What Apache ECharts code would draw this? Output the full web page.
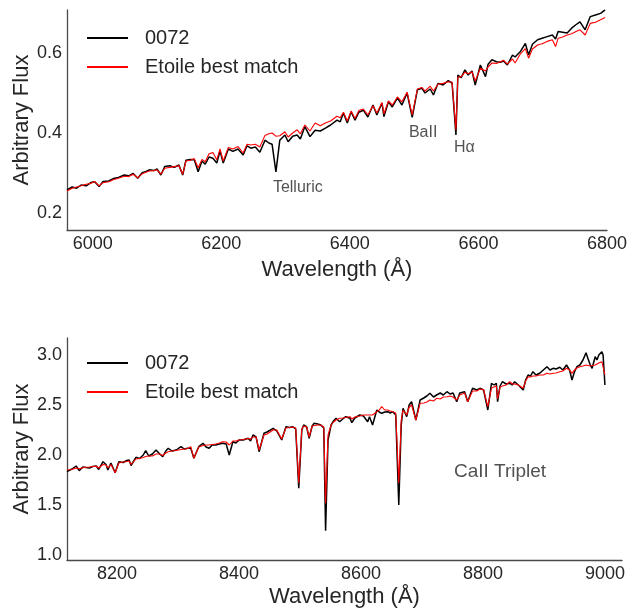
<!DOCTYPE html>
<html>
<head>
<meta charset="utf-8">
<script src="https://cdn.jsdelivr.net/npm/echarts@6/dist/echarts.min.js"></script>
<style>html,body{margin:0;padding:0;background:#fff;}#c{width:632px;height:610px;}</style>
</head>
<body>
<div id="c"></div>
<script>
// ---- Top panel (6000-6800 Å) ----
const topWl = [5960,5968,5975,5982,5990,5997,6003,6010,6016,6025,6032,6040,6049,6056,6063,6070,6077,6083,6088,6095,6100,6106,6112,6120,6127,6134,6140,6145,6152,6158,6164,6170,6175,6181,6187,6193,6198,6203,6211,6218,6226,6234,6240,6246,6253,6260,6268,6274,6279,6285,6291,6299,6304,6311,6318,6323,6330,6338,6346,6354,6362,6370,6380,6385,6390,6396,6402,6408,6414,6421,6428,6436,6442,6450,6453,6460,6466,6474,6481,6489,6497,6505,6512,6517,6525,6530,6537,6545,6553,6559,6565,6568,6573,6579,6584,6590,6595,6603,6611,6615,6621,6628,6634,6639,6645,6653,6657,6665,6673,6678,6684,6692,6699,6707,6715,6720,6724,6731,6738,6745,6751,6758,6766,6774,6782,6790,6797];
const topObs = [0.258,0.265,0.262,0.270,0.268,0.276,0.278,0.266,0.279,0.280,0.286,0.289,0.295,0.293,0.299,0.287,0.301,0.304,0.308,0.306,0.310,0.295,0.316,0.318,0.314,0.320,0.295,0.332,0.334,0.333,0.303,0.330,0.322,0.340,0.337,0.325,0.355,0.325,0.360,0.354,0.360,0.345,0.368,0.362,0.365,0.352,0.382,0.375,0.372,0.303,0.382,0.395,0.378,0.392,0.395,0.385,0.416,0.391,0.407,0.405,0.412,0.420,0.432,0.428,0.450,0.425,0.453,0.432,0.452,0.457,0.440,0.470,0.445,0.475,0.441,0.478,0.465,0.488,0.470,0.500,0.439,0.508,0.512,0.500,0.510,0.495,0.524,0.520,0.531,0.525,0.395,0.545,0.538,0.558,0.545,0.555,0.520,0.570,0.541,0.572,0.583,0.578,0.577,0.580,0.570,0.595,0.590,0.603,0.624,0.595,0.622,0.633,0.637,0.641,0.645,0.635,0.654,0.652,0.650,0.662,0.670,0.678,0.658,0.691,0.695,0.699,0.708];
const topModel = [0.255,0.262,0.265,0.268,0.272,0.274,0.279,0.268,0.276,0.278,0.283,0.287,0.292,0.291,0.297,0.288,0.298,0.302,0.305,0.306,0.308,0.297,0.312,0.314,0.316,0.318,0.297,0.330,0.332,0.336,0.313,0.334,0.328,0.348,0.351,0.333,0.360,0.330,0.364,0.360,0.366,0.350,0.372,0.370,0.372,0.365,0.394,0.398,0.400,0.392,0.393,0.403,0.390,0.400,0.408,0.398,0.420,0.405,0.425,0.418,0.425,0.430,0.442,0.438,0.452,0.430,0.455,0.436,0.456,0.460,0.445,0.468,0.450,0.476,0.448,0.480,0.470,0.490,0.478,0.502,0.445,0.510,0.514,0.505,0.517,0.505,0.522,0.524,0.528,0.527,0.408,0.540,0.540,0.552,0.548,0.553,0.530,0.562,0.555,0.565,0.575,0.574,0.578,0.582,0.572,0.585,0.575,0.597,0.611,0.587,0.610,0.620,0.623,0.629,0.633,0.616,0.637,0.640,0.645,0.648,0.653,0.658,0.645,0.674,0.677,0.683,0.689];
const topXTicks = [6000,6200,6400,6600,6800];
const topYTicks = [0.2,0.4,0.6];
const topNotes = [[6319,0.2625,'Telluric'],[6514,0.400,'BaII'],[6578,0.3625,'H\u03b1']];

// ---- Bottom panel (8100-9000 Å) ----
const botWl = [8118,8126,8133,8138,8144,8149,8155,8160,8166,8170,8177,8182,8185,8190,8193,8197,8203,8210,8216,8220,8223,8231,8237,8243,8247,8252,8258,8264,8270,8275,8280,8284,8290,8297,8305,8310,8316,8321,8326,8334,8341,8346,8351,8356,8362,8368,8373,8379,8384,8390,8395,8400,8407,8415,8419,8423,8428,8433,8441,8446,8449,8456,8462,8465,8470,8477,8483,8488,8493,8498,8503,8506,8511,8515,8520,8523,8529,8534,8539,8542,8546,8551,8555,8559,8565,8570,8575,8582,8585,8590,8598,8604,8611,8614,8619,8626,8630,8634,8639,8644,8648,8652,8657,8662,8666,8669,8675,8679,8683,8690,8697,8703,8708,8713,8719,8724,8730,8735,8741,8746,8751,8757,8762,8770,8775,8783,8790,8795,8801,8808,8814,8818,8822,8824,8828,8832,8838,8844,8848,8852,8858,8866,8870,8874,8878,8882,8887,8893,8899,8905,8910,8915,8920,8926,8931,8937,8942,8946,8950,8954,8959,8964,8969,8972,8976,8979,8984,8987,8990,8995,8997,9000];
const botObs = [1.833,1.860,1.890,1.843,1.880,1.875,1.870,1.885,1.890,1.855,1.933,1.905,1.850,1.920,1.915,1.823,1.933,1.925,1.945,1.950,1.895,1.977,1.965,2.000,2.043,1.990,2.010,2.050,2.010,1.983,2.040,2.067,2.040,2.050,2.083,2.060,2.067,2.067,1.967,2.083,2.117,2.080,2.067,2.100,2.100,2.110,2.117,2.110,2.000,2.133,2.120,2.150,2.150,2.167,2.140,2.200,2.180,2.033,2.217,2.230,2.250,2.267,2.240,2.250,2.150,2.283,2.275,2.283,2.260,1.667,2.250,2.300,2.280,2.167,2.290,2.317,2.310,2.300,2.270,1.243,2.150,2.300,2.340,2.367,2.333,2.360,2.383,2.367,2.323,2.370,2.400,2.390,2.333,2.383,2.300,2.450,2.430,2.417,2.430,2.433,2.420,2.433,2.400,1.500,2.300,2.467,2.383,2.500,2.533,2.350,2.550,2.570,2.590,2.617,2.580,2.600,2.620,2.600,2.633,2.610,2.620,2.533,2.620,2.633,2.533,2.667,2.650,2.667,2.650,2.450,2.717,2.700,2.717,2.533,2.690,2.733,2.710,2.717,2.700,2.733,2.700,2.650,2.750,2.800,2.790,2.833,2.800,2.817,2.850,2.883,2.850,2.867,2.860,2.877,2.850,2.900,2.850,2.750,2.830,2.883,2.900,2.950,3.023,2.967,2.900,2.867,2.983,2.950,3.000,3.033,3.000,2.700];
const botModel = [1.850,1.855,1.870,1.862,1.872,1.878,1.880,1.885,1.888,1.870,1.905,1.900,1.870,1.905,1.910,1.823,1.920,1.930,1.935,1.940,1.905,1.960,1.965,1.975,1.985,1.990,1.990,2.010,2.010,1.995,2.020,2.033,2.040,2.045,2.055,2.060,2.065,2.083,1.967,2.080,2.095,2.100,2.100,2.105,2.110,2.120,2.133,2.130,2.100,2.140,2.140,2.150,2.155,2.165,2.160,2.180,2.180,2.050,2.200,2.210,2.230,2.250,2.250,2.250,2.160,2.270,2.275,2.280,2.270,1.720,2.260,2.290,2.280,2.180,2.290,2.300,2.300,2.300,2.280,1.517,2.200,2.300,2.330,2.350,2.367,2.370,2.375,2.383,2.360,2.380,2.390,2.400,2.400,2.410,2.400,2.433,2.450,2.483,2.450,2.450,2.440,2.433,2.420,1.717,2.350,2.450,2.400,2.480,2.500,2.350,2.517,2.520,2.530,2.550,2.540,2.567,2.560,2.580,2.583,2.590,2.580,2.550,2.600,2.620,2.533,2.640,2.640,2.660,2.655,2.483,2.670,2.680,2.690,2.560,2.680,2.690,2.700,2.733,2.710,2.710,2.700,2.667,2.740,2.783,2.780,2.790,2.790,2.800,2.800,2.817,2.810,2.817,2.820,2.833,2.840,2.867,2.850,2.817,2.850,2.870,2.883,2.890,2.900,2.900,2.890,2.880,2.900,2.910,2.920,2.933,2.933,2.800];
const botXTicks = [8200,8400,8600,8800,9000];
const botYTicks = [1.0,1.5,2.0,2.5,3.0];
const botNotes = [[8828,1.83,'CaII Triplet']];

const seriesNames = ['0072','Etoile best match'];

function pairs(xs, ys){ return xs.map((x,i)=>[x, ys[i]]); }

const TXT = '#262626';
const FONT = '"Liberation Sans", Arial, sans-serif';
const SPINE = {show:true, lineStyle:{color:'#4a4a4a', width:1.3}};

function xAx(grid, min, max, ticks, gap){
  return {type:'value', gridIndex:grid, min:min, max:max, name:'Wavelength (\u00c5)', nameLocation:'middle', nameGap:gap,
    nameMoveOverlap:false,
    nameTextStyle:{color:TXT, fontSize:22, fontFamily:FONT},
    axisLine:SPINE, axisTick:{show:false}, splitLine:{show:false},
    axisLabel:{customValues:ticks, color:TXT, fontSize:18, fontFamily:FONT, margin:5, formatter:v=>String(v)}};
}
function yAx(grid, min, max, ticks, dec){
  return {type:'value', gridIndex:grid, min:min, max:max, name:'Arbitrary Flux', nameLocation:'middle', nameGap:34,
    nameMoveOverlap:false,
    nameTextStyle:{color:TXT, fontSize:22, fontFamily:FONT},
    axisLine:SPINE, axisTick:{show:false}, splitLine:{show:false},
    axisLabel:{customValues:ticks, color:TXT, fontSize:18, fontFamily:FONT, margin:5, formatter:v=>v.toFixed(dec)}};
}
function lineS(name, data, xi, color, w){
  return {type:'line', name:name, xAxisIndex:xi, yAxisIndex:xi, data:data, showSymbol:false, symbol:'none',
    lineStyle:{color:color, width:w}, itemStyle:{color:color}, z: color==='#000000'?2:3, silent:true};
}
function noteS(notes, xi, size){
  return {type:'scatter', xAxisIndex:xi, yAxisIndex:xi, symbolSize:1, itemStyle:{color:'rgba(0,0,0,0)'}, silent:true,
    data:notes.map(n=>({value:[n[0],n[1]], name:n[2]})),
    label:{show:true, position:'inside', formatter:p=>p.name, color:TXT, fontSize:size, fontFamily:FONT}};
}
function leg(top){
  return {data:seriesNames, orient:'vertical', left:87, top:top, padding:0, itemWidth:41, itemHeight:2, itemGap:9, icon:'rect',
    selectedMode:false, textStyle:{color:TXT, fontSize:20, fontFamily:FONT, lineHeight:20, padding:[0,0,0,12]}};
}

const chart = echarts.init(document.getElementById('c'), null, {renderer:'canvas'});
chart.setOption({
  backgroundColor:'#ffffff',
  animation:false,
  grid:[{left:67, top:10, width:540, height:220, containLabel:false, outerBoundsMode:'none'},
        {left:67, top:338, width:555, height:222, containLabel:false, outerBoundsMode:'none'}],
  legend:[leg(28), leg(353)],
  xAxis:[xAx(0,5960,6800,topXTicks,29), xAx(1,8118,9028,botXTicks,26)],
  yAxis:[yAx(0,0.1575,0.7075,topYTicks,1), yAx(1,0.95,3.17,botYTicks,1)],
  series:[
    lineS(seriesNames[0], pairs(topWl, topObs), 0, '#000000', 1.5),
    lineS(seriesNames[1], pairs(topWl, topModel), 0, '#ff0000', 1.1),
    lineS(seriesNames[0], pairs(botWl, botObs), 1, '#000000', 1.5),
    lineS(seriesNames[1], pairs(botWl, botModel), 1, '#ff0000', 1.1),
    noteS(topNotes, 0, 16),
    noteS(botNotes, 1, 19)
  ]
});
</script>
</body>
</html>
